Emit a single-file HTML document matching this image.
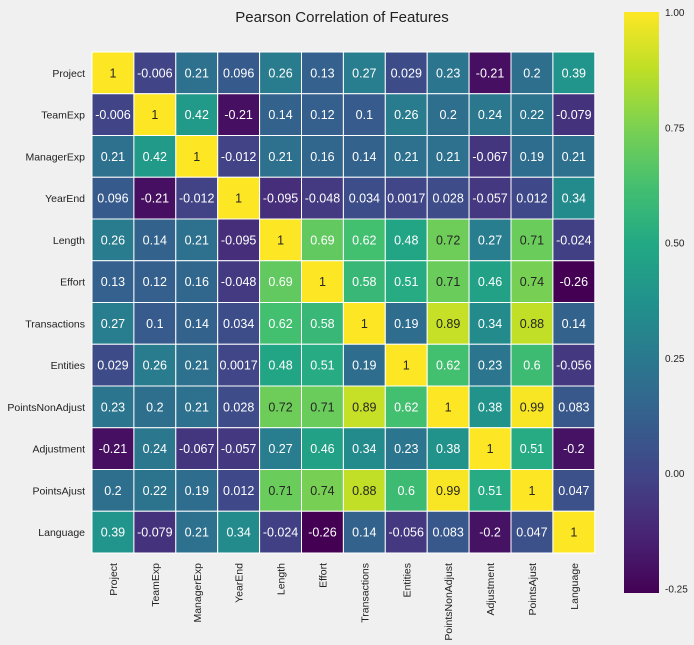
<!DOCTYPE html>
<html><head><meta charset="utf-8">
<style>
body{margin:0;background:#f0f0f0;font-family:"Liberation Sans",sans-serif;}
svg{display:block}
</style></head>
<body>
<svg id="chart" width="694" height="645" xmlns="http://www.w3.org/2000/svg">
<rect width="694" height="645" fill="#f0f0f0"/>
<text x="342" y="22" text-anchor="middle" font-size="15" fill="#222">Pearson Correlation of Features</text>
<g id="cells"></g>
<g id="labels"></g>
<defs><linearGradient id="vir" x1="0" y1="1" x2="0" y2="0"></linearGradient></defs>
<rect x="624" y="12" width="35" height="581" fill="url(#vir)"/>
<g id="cbticks"></g>
</svg>
<script>
const features=["Project","TeamExp","ManagerExp","YearEnd","Length","Effort","Transactions","Entities","PointsNonAdjust","Adjustment","PointsAjust","Language"];
const corrLabels=[
["1","-0.006","0.21","0.096","0.26","0.13","0.27","0.029","0.23","-0.21","0.2","0.39"],
["-0.006","1","0.42","-0.21","0.14","0.12","0.1","0.26","0.2","0.24","0.22","-0.079"],
["0.21","0.42","1","-0.012","0.21","0.16","0.14","0.21","0.21","-0.067","0.19","0.21"],
["0.096","-0.21","-0.012","1","-0.095","-0.048","0.034","0.0017","0.028","-0.057","0.012","0.34"],
["0.26","0.14","0.21","-0.095","1","0.69","0.62","0.48","0.72","0.27","0.71","-0.024"],
["0.13","0.12","0.16","-0.048","0.69","1","0.58","0.51","0.71","0.46","0.74","-0.26"],
["0.27","0.1","0.14","0.034","0.62","0.58","1","0.19","0.89","0.34","0.88","0.14"],
["0.029","0.26","0.21","0.0017","0.48","0.51","0.19","1","0.62","0.23","0.6","-0.056"],
["0.23","0.2","0.21","0.028","0.72","0.71","0.89","0.62","1","0.38","0.99","0.083"],
["-0.21","0.24","-0.067","-0.057","0.27","0.46","0.34","0.23","0.38","1","0.51","-0.2"],
["0.2","0.22","0.19","0.012","0.71","0.74","0.88","0.6","0.99","0.51","1","0.047"],
["0.39","-0.079","0.21","0.34","-0.024","-0.26","0.14","-0.056","0.083","-0.2","0.047","1"]];
const cbTicks=[1.00,0.75,0.50,0.25,0.00,-0.25];
const vmin=-0.26,vmax=1.0;
const X0=92,Y0=52,CW=41.9,CH=41.75;
const CB_TOP=12,CB_BOT=593;
const stops=["#440154","#482475","#414487","#355f8d","#2a788e","#21918c","#22a884","#44bf70","#7ad151","#bddf26","#fde725"];
function hex(h){return [1,3,5].map(i=>parseInt(h.substr(i,2),16));}
function vir(t){t=Math.max(0,Math.min(1,t));const p=t*10,i=Math.min(9,Math.floor(p)),f=p-i;const a=hex(stops[i]),b=hex(stops[i+1]);return a.map((v,k)=>Math.round(v+(b[k]-v)*f));}
const NS="http://www.w3.org/2000/svg";
function mk(t,a){const e=document.createElementNS(NS,t);for(const k in a)e.setAttribute(k,a[k]);return e;}
const xScale=j=>X0+j*CW, yScale=i=>Y0+i*CH;
const cbY=v=>CB_BOT-(v-vmin)/(vmax-vmin)*(CB_BOT-CB_TOP);
const cells=document.getElementById('cells'),labels=document.getElementById('labels');
corrLabels.forEach((row,i)=>row.forEach((s,j)=>{
 const v=parseFloat(s),c=vir((v-vmin)/(vmax-vmin));
 const r=mk('rect',{x:xScale(j),y:yScale(i),width:CW,height:CH,fill:`rgb(${c})`,stroke:'#fff','stroke-width':1});
 
 
 cells.appendChild(r);
 const t=mk('text',{x:xScale(j)+CW/2,y:yScale(i)+CH/2+4.5,'text-anchor':'middle','font-size':12.5,fill:v>0.70?'#262626':'#ffffff'});
 t.textContent=s;
 
 
 cells.appendChild(t);
}));
features.forEach((f,i)=>{
 const t=mk('text',{x:85,y:yScale(i)+CH/2+4,'text-anchor':'end','font-size':10.5,fill:'#222'});
 t.textContent=f;
 
 
 labels.appendChild(t);
 const cx=xScale(i)+CW/2+4,cy=Y0+12*CH+10;
 const u=mk('text',{x:cx,y:cy,'text-anchor':'end','font-size':10.5,fill:'#222',transform:`rotate(-90 ${cx} ${cy})`});
 u.textContent=f;
 
 
 labels.appendChild(u);
});
const g=document.getElementById('vir');
for(let k=0;k<=20;k++){const c=vir(k/20);g.appendChild(mk('stop',{offset:k/20,'stop-color':`rgb(${c})`}));}
const cbt=document.getElementById('cbticks');
cbTicks.forEach(v=>{
 const t=mk('text',{x:665,y:cbY(v)+4,'font-size':10,fill:'#222'});
 t.textContent=v.toFixed(2);
 
 
 cbt.appendChild(t);
});
</script>
</body></html>
